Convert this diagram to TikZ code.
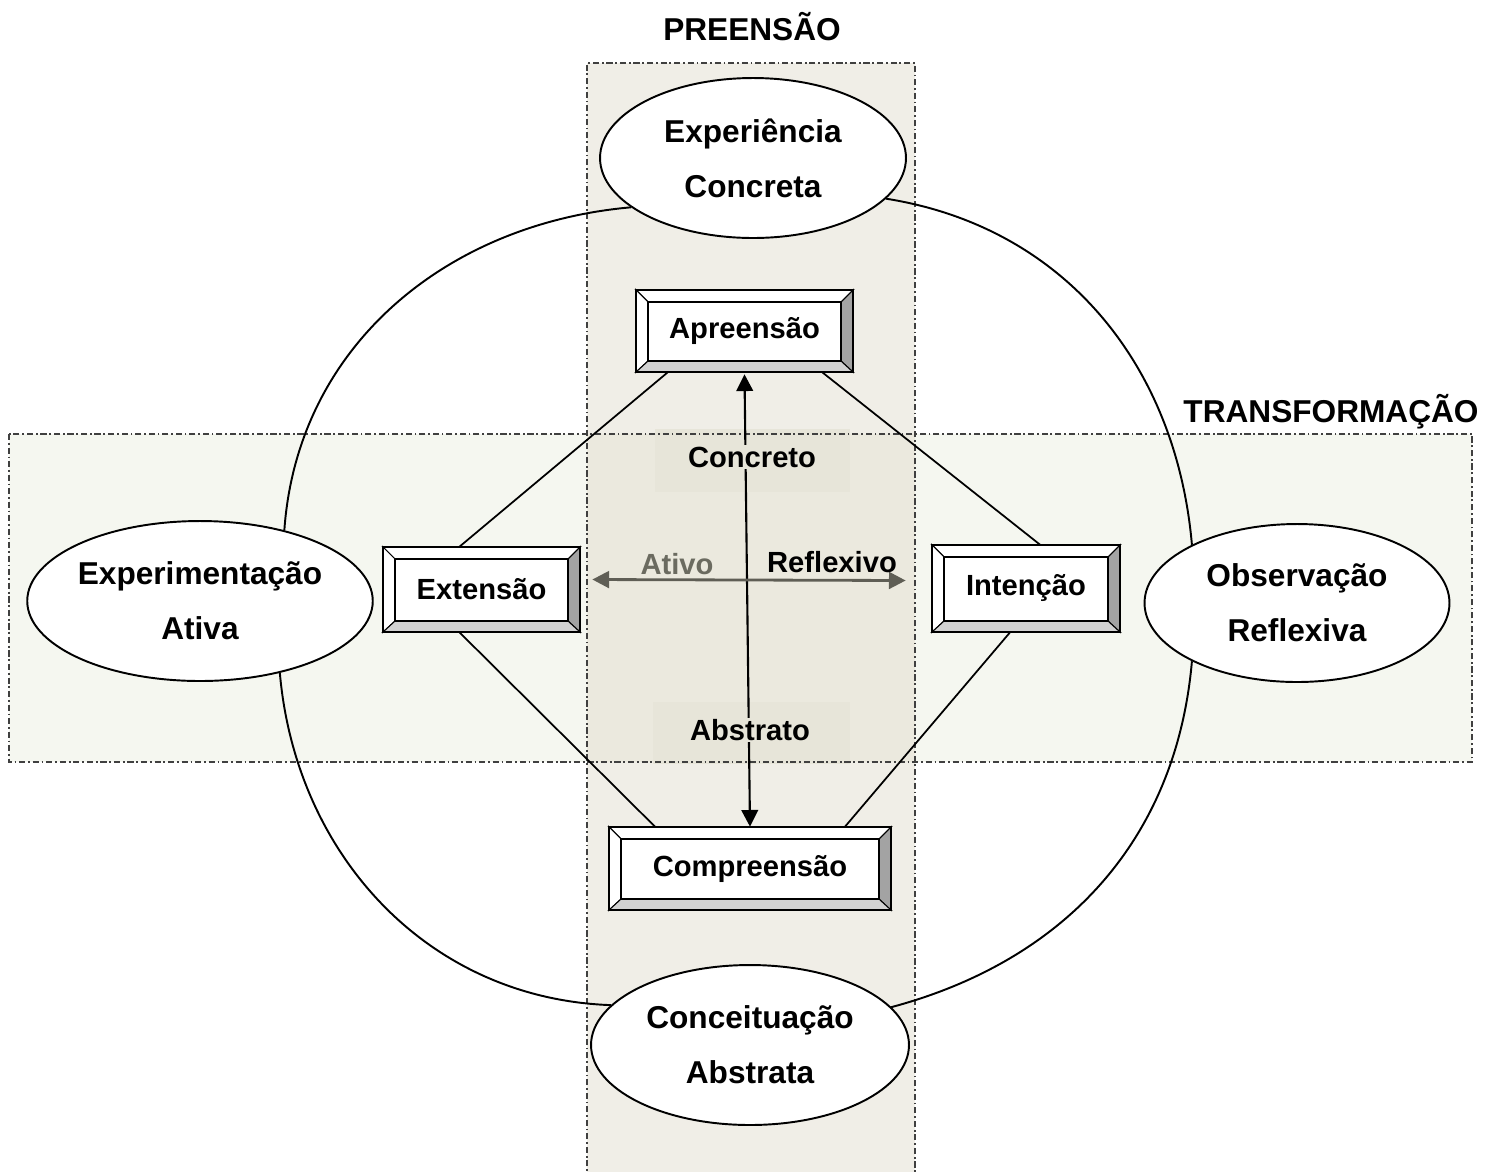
\documentclass[tikz,border=0pt]{standalone}
\usepackage{fontspec}
\setmainfont{Liberation Sans}
\usetikzlibrary{arrows.meta,calc,shapes.geometric}
\definecolor{vband}{HTML}{F0EEE7}
\definecolor{hband}{HTML}{F5F7F0}
\definecolor{xband}{HTML}{EBE9DE}
\definecolor{lblbg}{HTML}{E7E5D9}
\definecolor{arrgray}{HTML}{5F5E55}
\definecolor{txtgray}{HTML}{6B6B60}
\definecolor{bevdark}{HTML}{A3A3A3}
\definecolor{bevmid}{HTML}{D2D2D2}
\newcommand\fbig{\fontsize{18}{31.2}\selectfont\bfseries}
\newcommand\fmid{\fontsize{16.6}{20}\selectfont\bfseries}
\newcommand\bevelframe[1]{%
  \filldraw[fill=white,line width=0.6pt] (#1.north west) -- (#1.north east) -- ($(#1.north east)+(-12,12)$) -- ($(#1.north west)+(12,12)$) -- cycle;
  \filldraw[fill=white,line width=0.6pt] (#1.north west) -- ($(#1.north west)+(12,12)$) -- ($(#1.south west)+(12,-11)$) -- (#1.south west) -- cycle;
  \filldraw[fill=bevdark,line width=0.6pt] (#1.north east) -- (#1.south east) -- ($(#1.south east)+(-12,-11)$) -- ($(#1.north east)+(-12,12)$) -- cycle;
  \filldraw[fill=bevmid,line width=0.6pt] (#1.south west) -- (#1.south east) -- ($(#1.south east)+(-12,-11)$) -- ($(#1.south west)+(12,-11)$) -- cycle;
  \draw[line width=1pt] ($(#1.north west)+(12,12)$) rectangle ($(#1.south east)+(-12,-11)$);
  \draw[line width=1.2pt] (#1.north west) rectangle (#1.south east);
}
\tikzset{
  band/.style={draw=black!75,line width=0.6pt,dash pattern=on 3.5pt off 1.6pt on 1pt off 1.6pt},
  oval/.style={ellipse,draw,fill=white,line width=1.1pt,inner sep=0pt,align=center,font=\fbig},
  bbox/.style={rectangle,fill=white,inner sep=0pt,font=\fmid},
  title/.style={font=\fbig,inner sep=0pt},
  lbl/.style={font=\fmid,inner sep=1pt},
  arc/.style={line width=1.1pt},
  link/.style={line width=1pt},
  tip/.style={{Triangle[length=9.5pt,width=9.5pt]}-{Triangle[length=9.5pt,width=9.5pt]}}
}
\begin{document}
\begin{tikzpicture}[x=0.02cm,y=-0.02cm]
\useasboundingbox (0,0) rectangle (1497,1171);
% bands
\fill[hband] (9,434) rectangle (1472,762);
\fill[vband] (587,63) rectangle (915,1180);
\fill[xband] (587,434) rectangle (915,762);
\fill[lblbg] (655,429) rectangle (850,492);
\fill[lblbg] (653,702) rectangle (850,764);
\draw[band] (9,434) rectangle (1472,762);
\draw[band] (587,1180) -- (587,63) -- (915,63) -- (915,1180);
% titles
\node[title] (tpre) at (752,27) {PREENSÃO};
\node[title] (ttra) at (1331,412) {TRANSFORMAÇÃO};
% ellipses
\node[oval,minimum width=6.12cm,minimum height=3.2cm] (ec) at (753,158) {Experiência\\Concreta};
\node[oval,minimum width=6.9cm,minimum height=3.2cm] (ea) at (200,601) {Experimentação\\Ativa};
\node[oval,minimum width=6.1cm,minimum height=3.16cm] (eo) at (1297,603) {Observação\\Reflexiva};
\node[oval,minimum width=6.36cm,minimum height=3.2cm] (ecn) at (750,1045) {Conceituação\\Abstrata};
% arcs
\draw[arc] (ec.202) to[out=185,in=86] (ea.40);
\draw[arc] (ec.343) to[out=351,in=95] (eo.151);
\draw[arc] (ea.318) to[out=275,in=178] (ecn.164);
\draw[arc] (eo.209) to[out=265,in=15] (ecn.15);
% boxes
\node[bbox,minimum width=4.34cm,minimum height=1.64cm] (apr) at (744.5,331) {Apreensão};
\node[bbox,minimum width=3.94cm,minimum height=1.70cm] (ext) at (481.5,589.5) {Extensão};
\node[bbox,minimum width=3.76cm,minimum height=1.74cm] (int) at (1026,588.5) {Intenção};
\node[bbox,minimum width=5.64cm,minimum height=1.66cm] (comp) at (750,868.5) {Compreensão};
\bevelframe{apr}
\bevelframe{ext}
\bevelframe{int}
\bevelframe{comp}
% diamond links
\draw[link] ($(apr.south west)+(32,0)$) -- ($(ext.north)+(-22,0)$);
\draw[link] ($(apr.south east)+(-31,0)$) -- ($(int.north)+(14,0)$);
\draw[link] ($(ext.south)+(-22,0)$) -- ($(comp.north)+(-95,0)$);
\draw[link] ($(int.south)+(-16,0)$) -- ($(comp.north)+(95,0)$);
% axes
\draw[tip,line width=1.2pt] ($(apr.south)+(0,2)$) -- (comp.north);
\draw[tip,line width=1.6pt,draw=arrgray,fill=arrgray] ($(ext.east)+(12,-10)$) -- ($(int.west)+(-26,-8)$);
% labels
\node[lbl,fill=lblbg] (lconc) at (752,457) {Concreto};
\node[lbl,fill=lblbg] (labs) at (750,730) {Abstrato};
\node[lbl,text=txtgray] (lati) at (677,564) {Ativo};
\node[lbl] (lref) at (832,562) {Reflexivo};
\end{tikzpicture}
\end{document}
